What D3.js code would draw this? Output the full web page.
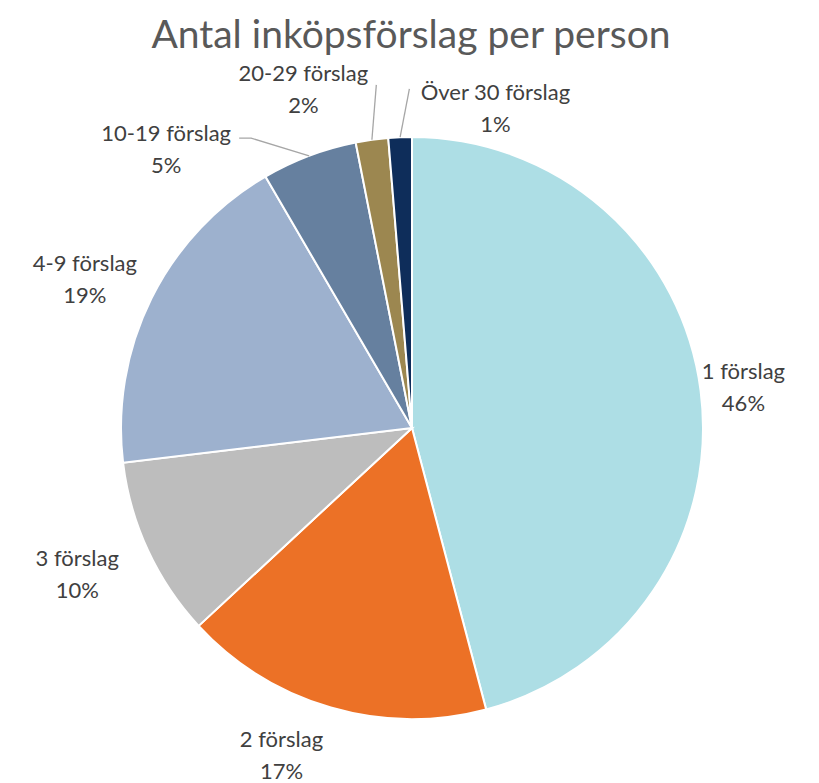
<!DOCTYPE html>
<html>
<head>
<meta charset="utf-8">
<script src="https://cdn.jsdelivr.net/npm/d3@7"></script>
<style>
  body { margin: 0; background: #fff; }
  svg { display: block; font-family: Lato, "Open Sans", sans-serif; }
</style>
</head>
<body>
<div id="chart"></div>
<script>
// Data (percent of respondents)
const categories = ['1 förslag', '2 förslag', '3 förslag', '4-9 förslag', '10-19 förslag', '20-29 förslag', 'Över 30 förslag'];
const values = [45.9, 17.2, 10.0, 18.5, 5.3, 1.8, 1.3];
const percentLabels = ['46%', '17%', '10%', '19%', '5%', '2%', '1%'];
const colors = ['#ADDEE5', '#EC7126', '#BDBDBD', '#9DB1CE', '#66809F', '#9C8750', '#0E2D5A'];

// label placement: angle nudge (deg) and radius factor, plus whether a leader line is drawn
const labelAngleNudge = [0.2, 5.6, 1.4, -1.8, -20.6, -9.8, 16.9];
const labelRadius = [1.148, 1.208, 1.254, 1.237, 1.28, 1.227, 1.14];
const hasLeader = [false, false, false, false, true, true, true];

const width = 819, height = 783;
const cx = 412, cy = 428, r = 291;

const svg = d3.select('#chart').append('svg')
    .attr('width', width)
    .attr('height', height);

svg.append('text')
    .attr('x', 411)
    .attr('y', 48)
    .attr('text-anchor', 'middle')
    .attr('font-size', 39)
    .attr('fill', '#595959')
    .text('Antal inköpsförslag per person');

const pie = d3.pie().sort(null).value(d => d)(values);
const arc = d3.arc().innerRadius(0).outerRadius(r);

const g = svg.append('g').attr('transform', `translate(${cx},${cy})`);

g.selectAll('path.slice')
    .data(pie)
    .enter()
    .append('path')
    .attr('class', 'slice')
    .attr('d', arc)
    .attr('fill', (d, i) => colors[i])
    .attr('stroke', '#fff')
    .attr('stroke-width', 2);

const polar = (angle, rad) => [Math.sin(angle) * rad, -Math.cos(angle) * rad];

pie.forEach((d, i) => {
    const mid = (d.startAngle + d.endAngle) / 2;
    const la = mid + labelAngleNudge[i] * Math.PI / 180;
    const [lx, ly] = polar(la, r * labelRadius[i]);

    if (hasLeader[i]) {
        const [ex, ey] = polar(mid, r);
        let pts;
        if (i === 4) {
            // elbow leader for 10-19
            pts = [[ex, ey], [lx + 85, ly - 10], [lx + 73, ly - 10]];
        } else if (i === 5) {
            pts = [[ex, ey], [lx + 73, ly - 3]];
        } else {
            pts = [[ex, ey], [lx - 86, ly - 18]];
        }
        g.append('path')
            .attr('d', d3.line()(pts))
            .attr('fill', 'none')
            .attr('stroke', '#A6A6A6')
            .attr('stroke-width', 1.3);
    }

    const t = g.append('text')
        .attr('text-anchor', 'middle')
        .attr('font-size', 22)
        .attr('fill', '#404040');
    t.append('tspan').attr('x', lx).attr('y', ly - 7).text(categories[i]);
    t.append('tspan').attr('x', lx).attr('y', ly + 25).text(percentLabels[i]);
});
</script>
</body>
</html>
